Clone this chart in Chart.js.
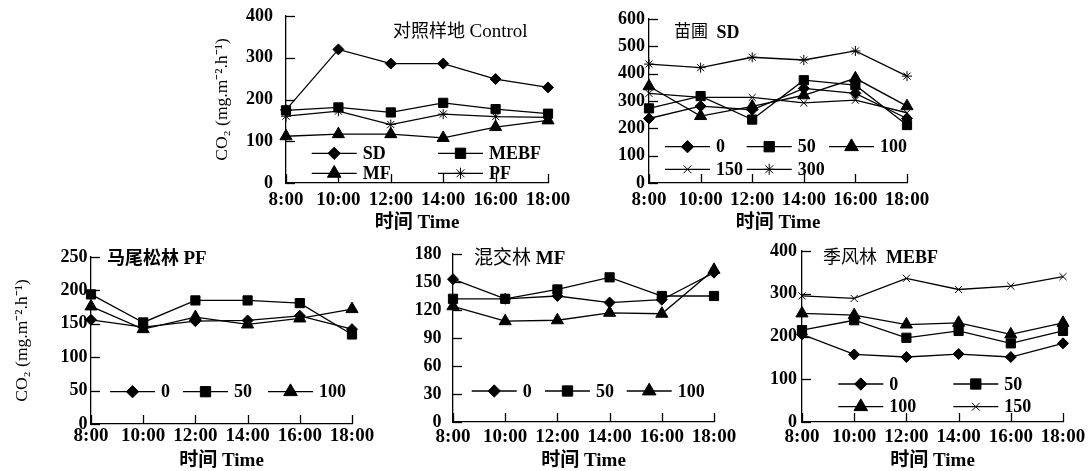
<!DOCTYPE html>
<html>
<head>
<meta charset="utf-8">
<script src="https://cdn.jsdelivr.net/npm/chart.js@4.4.1/dist/chart.umd.min.js"></script>
<style>
html,body{margin:0;padding:0;background:#fff;width:1090px;height:471px;overflow:hidden;}
.p{position:absolute;}
</style>
</head>
<body>
<div class="p" style="left:200px;top:0;width:380px;height:235px;"><canvas id="c1"></canvas></div>
<div class="p" style="left:600px;top:0;width:335px;height:235px;"><canvas id="c2"></canvas></div>
<div class="p" style="left:0;top:235px;width:380px;height:236px;"><canvas id="c3"></canvas></div>
<div class="p" style="left:400px;top:235px;width:340px;height:236px;"><canvas id="c4"></canvas></div>
<div class="p" style="left:740px;top:235px;width:350px;height:236px;"><canvas id="c5"></canvas></div>
<script>
// ---------- data ----------
const times = ['8:00','10:00','12:00','14:00','16:00','18:00'];

// Control plots
const ctrlSD   = [175, 320, 286, 286, 249, 229];
const ctrlMEBF = [174, 181, 169, 192, 177, 166];
const ctrlMF   = [112, 117, 117, 108, 134, 150];
const ctrlPF   = [160, 172, 140, 165, 159, 157];

// Nursery SD
const sd0   = [236, 281, 268, 346, 328, 236];
const sd50  = [273, 318, 232, 376, 358, 212];
const sd100 = [354, 245, 280, 321, 383, 281];
const sd150 = [328, 313, 313, 293, 303, 257];
const sd300 = [435, 422, 460, 450, 483, 391];

// Pine forest PF
const pf0   = [156, 145, 154, 155, 162, 142];
const pf50  = [194, 152, 185, 185, 181, 134];
const pf100 = [176, 142, 160, 149, 158, 172];

// Mixed forest MF
const mf0   = [153, 132, 135, 128, 131, 160];
const mf50  = [132, 132, 142, 155, 135, 135];
const mf100 = [124, 108, 109, 117, 116, 163];

// Monsoon forest MEBF
const mebf0   = [205, 158, 152, 159, 152, 184];
const mebf50  = [215, 238, 197, 213, 184, 213];
const mebf100 = [254, 250, 228, 232, 205, 232];
const mebf150 = [295, 289, 336, 310, 318, 340];

// ---------- styling helpers ----------
const SERIF = "'Liberation Serif','Times New Roman','Noto Sans CJK SC',serif";
const STY = {
  diamond: {pointStyle:'rectRot', pointRadius:5.5},
  square:  {pointStyle:'rect', pointRadius:6.5},
  tri:     {pointStyle:'triangle', pointRadius:7},
  cross:   {pointStyle:'crossRot', pointRadius:5},
  star:    {pointStyle:'star', pointRadius:5}
};
function ds(label, data, st){
  return Object.assign({
    label, data,
    borderColor:'#000', backgroundColor:'#000',
    pointBackgroundColor:'#000', pointBorderColor:'#000',
    borderWidth:1.3, pointBorderWidth:1, tension:0, fill:false
  }, STY[st]);
}

const decor = {
  id:'decor',
  afterDraw(chart, args, o){
    const ctx = chart.ctx, a = chart.chartArea;
    const xs = chart.scales.x, ys = chart.scales.y;
    ctx.save();
    ctx.strokeStyle = '#000'; ctx.fillStyle = '#000'; ctx.lineWidth = 1.3;
    // inside tick marks
    ys.ticks.forEach((t,i)=>{
      const y = Math.round(ys.getPixelForTick(i)) + 0.5;
      ctx.beginPath(); ctx.moveTo(a.left, y); ctx.lineTo(a.left + 9, y); ctx.stroke();
    });
    xs.ticks.forEach((t,i)=>{
      const x = Math.round(xs.getPixelForTick(i)) + 0.5;
      ctx.beginPath(); ctx.moveTo(x, a.bottom); ctx.lineTo(x, a.bottom - 9); ctx.stroke();
    });
    // panel title
    let tx = a.left + o.title.x;
    const ty = a.top + o.title.y;
    ctx.textBaseline = 'middle'; ctx.textAlign = 'left';
    o.title.parts.forEach(p=>{
      ctx.font = p.font;
      ctx.fillText(p.text, tx, ty);
      tx += ctx.measureText(p.text).width;
    });
    // legend (line + marker + label)
    ctx.font = "bold 18px " + SERIF;
    chart.data.datasets.forEach((d,i)=>{
      const pos = o.legend[i];
      const x0 = a.left + pos[0], y0 = a.top + pos[1];
      ctx.lineWidth = 1.3;
      ctx.beginPath(); ctx.moveTo(x0, y0); ctx.lineTo(x0 + 45, y0); ctx.stroke();
      ctx.lineWidth = 1;
      Chart.helpers.drawPoint(ctx, {pointStyle:d.pointStyle, radius:d.pointRadius*1.12, borderWidth:1, rotation:0}, x0 + 22.5, y0);
      ctx.fillText(d.label, x0 + 51, y0 + 1);
    });
    ctx.restore();
  }
};

function makeChart(id, datasets, cfg){
  const yScale = {
    min:0, max:cfg.max,
    ticks:{stepSize:cfg.step, color:'#000', padding:cfg.yp, font:{family:SERIF, size:18, weight:'bold'}},
    grid:{display:false, drawTicks:false},
    border:{display:true, color:'#000', width:1.3},
    afterFit(s){ s.width = cfg.yw; s.paddingTop = 0; s.paddingBottom = 0; }
  };
  if (cfg.ytitle) {
    yScale.title = {display:true, text:'CO\u2082 (mg.m\u207B\u00B2.h\u207B\u00B9)', color:'#000',
      font:{family:SERIF, size:17.5, weight:'normal'}, padding:{top:11.5, bottom:0}};
  }
  return new Chart(document.getElementById(id), {
    type:'line',
    data:{labels:times, datasets},
    options:{
      responsive:true, maintainAspectRatio:false, animation:false,
      devicePixelRatio:1,
      layout:{padding:{top:cfg.pt, right:cfg.pr, left:0, bottom:0}},
      plugins:{legend:{display:false}, tooltip:{enabled:false},
        decor:{title:cfg.title, legend:cfg.legend}},
      scales:{
        x:{
          offset:false,
          ticks:{color:'#000', padding:cfg.xp, maxRotation:0, autoSkip:false,
            font:{family:SERIF, size:19, weight:'bold'}},
          grid:{display:false, drawTicks:false},
          border:{display:true, color:'#000', width:1.3},
          title:{display:true, text:'时间 Time', color:'#000',
            font:{family:SERIF, size:19, weight:'bold', lineHeight:1}, padding:{top:0, bottom:cfg.tb}},
          afterFit(s){ s.height = cfg.xh; s.paddingLeft = 0; s.paddingRight = 0; }
        },
        y:yScale
      }
    },
    plugins:[decor]
  });
}

makeChart('c1', [
  ds('SD', ctrlSD, 'diamond'),
  ds('MEBF', ctrlMEBF, 'square'),
  ds('MF', ctrlMF, 'tri'),
  ds('PF', ctrlPF, 'star')
], {max:400, step:100, yw:86, xh:52, pt:16, pr:32, xp:6, yp:13, tb:2.5, ytitle:true,
  title:{x:107, y:16, parts:[{text:'对照样地 ', font:"18px "+SERIF},{text:'Control', font:"19px "+SERIF}]},
  legend:[[25.7,137.3],[152,137.3],[25.7,157.3],[152,157.3]]});

makeChart('c2', [
  ds('0', sd0, 'diamond'),
  ds('50', sd50, 'square'),
  ds('100', sd100, 'tri'),
  ds('150', sd150, 'cross'),
  ds('300', sd300, 'star')
], {max:600, step:100, yw:49, xh:52, pt:19, pr:28, xp:6, yp:4, tb:2.5, ytitle:false,
  title:{x:25, y:14, parts:[{text:'苗圃  ', font:"17px "+SERIF},{text:'SD', font:"bold 18px "+SERIF}]},
  legend:[[16,127.7],[97.7,127.7],[180,127.7],[16,150.3],[97.7,150.3]]});

makeChart('c3', [
  ds('0', pf0, 'diamond'),
  ds('50', pf50, 'square'),
  ds('100', pf100, 'tri')
], {max:250, step:50, yw:91, xh:47, pt:22, pr:28, xp:1, yp:3.5, tb:0, ytitle:true,
  title:{x:16, y:2, parts:[{text:'马尾松林 ', font:"bold 18px "+SERIF},{text:'PF', font:"bold 19px "+SERIF}]},
  legend:[[19,134.7],[92,134.7],[177,134.7]]});

makeChart('c4', [
  ds('0', mf0, 'diamond'),
  ds('50', mf50, 'square'),
  ds('100', mf100, 'tri')
], {max:180, step:30, yw:53, xh:49, pt:19, pr:26, xp:3.6, yp:11.5, tb:0, ytitle:false,
  title:{x:21, y:5, parts:[{text:'混交林 ', font:"19px "+SERIF},{text:'MF', font:"bold 19px "+SERIF}]},
  legend:[[18.7,137],[92,137],[173.7,137]]});

makeChart('c5', [
  ds('0', mebf0, 'diamond'),
  ds('50', mebf50, 'square'),
  ds('100', mebf100, 'tri'),
  ds('150', mebf150, 'cross')
], {max:400, step:100, yw:62, xh:49, pt:16, pr:27, xp:3.6, yp:5, tb:0, ytitle:false,
  title:{x:21, y:7, parts:[{text:'季风林  ', font:"18px "+SERIF},{text:'MEBF', font:"bold 18px "+SERIF}]},
  legend:[[36.3,133],[151.3,133],[36.3,155.7],[151.3,155.7]]});
</script>
</body>
</html>
